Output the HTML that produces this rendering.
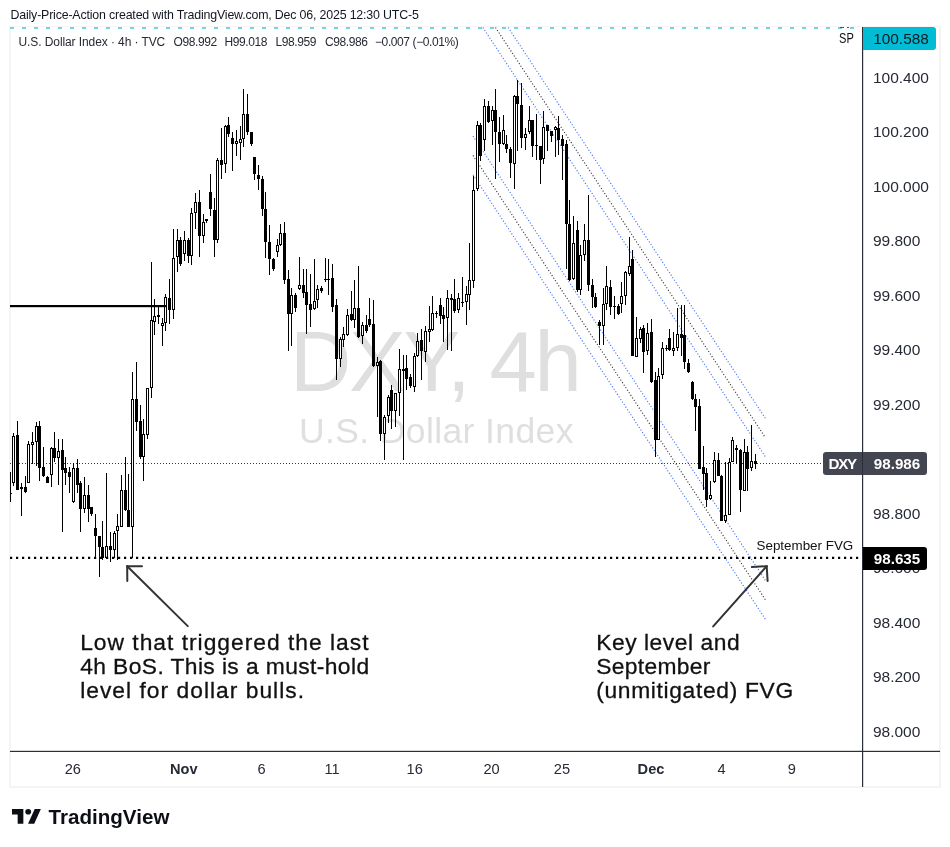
<!DOCTYPE html>
<html><head><meta charset="utf-8"><title>DXY 4h</title>
<style>
html,body{margin:0;padding:0;background:#fff;}
body{width:950px;height:847px;position:relative;overflow:hidden;font-family:"Liberation Sans",sans-serif;color:#131722;}
.abs{position:absolute;white-space:nowrap;}
#hdr{left:10.5px;top:7px;font-size:12.4px;line-height:16px;color:#131722;letter-spacing:-0.18px;}
#frame{left:9px;top:26px;width:932px;height:762px;border:2px solid #f4f4f5;border-top-width:1px;box-sizing:border-box;}
#legend{left:18.5px;top:34px;font-size:12px;line-height:16px;color:#262a35;}
.lg{position:absolute;top:0;white-space:nowrap;letter-spacing:-0.4px;}
#wm1{left:290px;top:315px;font-size:85px;line-height:94px;color:#dfdfdf;letter-spacing:-2.3px;}
#wm2{left:299px;top:410px;font-size:35.5px;line-height:42px;color:#dfdfdf;letter-spacing:0.38px;}
#chart{left:0;top:0;}
.ln{display:block;}
.ann{font-size:22.8px;line-height:23.7px;-webkit-text-stroke:0.3px #111;color:#111;white-space:nowrap;}
.pl{position:absolute;left:872.9px;width:67px;text-align:left;font-size:15.5px;line-height:18px;color:#262a35;white-space:nowrap;}
.tl{position:absolute;top:760px;font-size:14.6px;line-height:18px;color:#262a35;transform:translateX(-50%);white-space:nowrap;}
.tl b{font-weight:bold;}
.tag{position:absolute;box-sizing:border-box;color:#fff;font-weight:bold;font-size:15.2px;line-height:23px;white-space:nowrap;}
#root{position:absolute;left:0;top:0;width:950px;height:847px;will-change:transform;}
</style></head><body><div id="root">
<div class="abs" id="hdr">Daily-Price-Action created with TradingView.com, Dec 06, 2025 12:30 UTC-5</div>
<div class="abs" id="frame"></div>
<div class="abs" id="wm1">DXY, 4h</div>
<div class="abs" id="wm2">U.S. Dollar Index</div>
<svg class="abs" id="chart" width="950" height="847" viewBox="0 0 950 847">
<!-- top dashed SP line -->
<line x1="10" y1="28" x2="862" y2="28" stroke="#72d4e3" stroke-width="2" stroke-dasharray="4 8"/>
<!-- last price dotted -->
<line x1="10" y1="463.5" x2="822" y2="463.5" stroke="#3a3a3a" stroke-width="1" stroke-dasharray="1 2"/>
<g><line x1="508.2" y1="27.5" x2="765.4" y2="418.4" stroke="#2962ff" stroke-width="1.15" stroke-dasharray="1.1 1.95" opacity="0.9"/>
<line x1="495.5" y1="27.5" x2="765.4" y2="437.7" stroke="#222" stroke-width="1.15" stroke-dasharray="1.1 1.95" opacity="0.9"/>
<line x1="482.9" y1="27.5" x2="765.4" y2="456.8" stroke="#2962ff" stroke-width="1.15" stroke-dasharray="1.1 1.95" opacity="0.9"/>
<line x1="473.0" y1="136.0" x2="765.4" y2="580.4" stroke="#2962ff" stroke-width="1.15" stroke-dasharray="1.1 1.95" opacity="0.9"/>
<line x1="473.0" y1="155.4" x2="765.4" y2="599.8" stroke="#222" stroke-width="1.15" stroke-dasharray="1.1 1.95" opacity="0.9"/>
<line x1="473.0" y1="174.8" x2="765.4" y2="619.2" stroke="#2962ff" stroke-width="1.15" stroke-dasharray="1.1 1.95" opacity="0.9"/></g>
<g fill="#000" shape-rendering="crispEdges">
<rect x="10" y="472" width="1" height="30" fill="#000"/><rect x="10" y="493" width="2" height="1" fill="#000"/>
<rect x="13" y="433" width="1" height="53"/>
<rect x="12" y="436" width="3" height="47"/>
<rect x="13" y="437" width="1" height="45" fill="#fff"/>
<rect x="17" y="421" width="1" height="69"/>
<rect x="16" y="435" width="3" height="55"/>
<rect x="21" y="483" width="1" height="33"/>
<rect x="20" y="487" width="3" height="2"/>
<rect x="25" y="476" width="1" height="17"/>
<rect x="24" y="487" width="3" height="5"/>
<rect x="28" y="441" width="1" height="42"/>
<rect x="27" y="444" width="3" height="39"/>
<rect x="28" y="445" width="1" height="37" fill="#fff"/>
<rect x="32" y="432" width="1" height="32"/>
<rect x="31" y="442" width="3" height="3"/>
<rect x="32" y="443" width="1" height="1" fill="#fff"/>
<rect x="36" y="422" width="1" height="44"/>
<rect x="35" y="426" width="3" height="16"/>
<rect x="36" y="427" width="1" height="14" fill="#fff"/>
<rect x="39" y="421" width="1" height="60"/>
<rect x="38" y="426" width="3" height="42"/>
<rect x="43" y="447" width="1" height="30"/>
<rect x="42" y="467" width="3" height="9"/>
<rect x="47" y="476" width="1" height="7"/>
<rect x="46" y="477" width="3" height="6"/>
<rect x="51" y="447" width="1" height="40"/>
<rect x="50" y="448" width="3" height="27"/>
<rect x="51" y="449" width="1" height="25" fill="#fff"/>
<rect x="54" y="432" width="1" height="30"/>
<rect x="53" y="448" width="3" height="10"/>
<rect x="58" y="439" width="1" height="46"/>
<rect x="57" y="451" width="3" height="7"/>
<rect x="58" y="452" width="1" height="5" fill="#fff"/>
<rect x="62" y="439" width="1" height="93"/>
<rect x="61" y="450" width="3" height="20"/>
<rect x="65" y="457" width="1" height="28"/>
<rect x="64" y="468" width="3" height="5"/>
<rect x="69" y="467" width="1" height="26"/>
<rect x="68" y="472" width="3" height="5"/>
<rect x="73" y="463" width="1" height="40"/>
<rect x="72" y="468" width="3" height="34"/>
<rect x="73" y="469" width="1" height="32" fill="#fff"/>
<rect x="77" y="459" width="1" height="34"/>
<rect x="76" y="468" width="3" height="17"/>
<rect x="80" y="481" width="1" height="51"/>
<rect x="79" y="483" width="3" height="26"/>
<rect x="84" y="477" width="1" height="36"/>
<rect x="83" y="495" width="3" height="14"/>
<rect x="84" y="496" width="1" height="12" fill="#fff"/>
<rect x="88" y="485" width="1" height="37"/>
<rect x="87" y="495" width="3" height="14"/>
<rect x="91" y="507" width="1" height="9"/>
<rect x="90" y="507" width="3" height="7"/>
<rect x="95" y="514" width="1" height="44"/>
<rect x="94" y="528" width="3" height="8"/>
<rect x="99" y="536" width="1" height="41"/>
<rect x="98" y="536" width="3" height="11"/>
<rect x="102" y="521" width="1" height="39"/>
<rect x="101" y="547" width="3" height="11"/>
<rect x="106" y="473" width="1" height="86"/>
<rect x="105" y="546" width="3" height="12"/>
<rect x="106" y="547" width="1" height="10" fill="#fff"/>
<rect x="110" y="532" width="1" height="30"/>
<rect x="109" y="546" width="3" height="4"/>
<rect x="114" y="531" width="1" height="27"/>
<rect x="113" y="533" width="3" height="17"/>
<rect x="114" y="534" width="1" height="15" fill="#fff"/>
<rect x="117" y="514" width="1" height="46"/>
<rect x="116" y="526" width="3" height="5"/>
<rect x="117" y="527" width="1" height="3" fill="#fff"/>
<rect x="121" y="475" width="1" height="52"/>
<rect x="120" y="490" width="3" height="37"/>
<rect x="121" y="491" width="1" height="35" fill="#fff"/>
<rect x="125" y="457" width="1" height="54"/>
<rect x="124" y="490" width="3" height="20"/>
<rect x="128" y="474" width="1" height="53"/>
<rect x="127" y="510" width="3" height="17"/>
<rect x="132" y="372" width="1" height="186"/>
<rect x="131" y="399" width="3" height="128"/>
<rect x="132" y="400" width="1" height="126" fill="#fff"/>
<rect x="136" y="362" width="1" height="69"/>
<rect x="135" y="399" width="3" height="23"/>
<rect x="140" y="405" width="1" height="54"/>
<rect x="139" y="421" width="3" height="36"/>
<rect x="143" y="419" width="1" height="62"/>
<rect x="142" y="434" width="3" height="23"/>
<rect x="143" y="435" width="1" height="21" fill="#fff"/>
<rect x="147" y="388" width="1" height="51"/>
<rect x="146" y="388" width="3" height="47"/>
<rect x="147" y="389" width="1" height="45" fill="#fff"/>
<rect x="151" y="262" width="1" height="136"/>
<rect x="150" y="320" width="3" height="68"/>
<rect x="151" y="321" width="1" height="66" fill="#fff"/>
<rect x="154" y="299" width="1" height="36"/>
<rect x="153" y="316" width="3" height="6"/>
<rect x="154" y="317" width="1" height="4" fill="#fff"/>
<rect x="158" y="306" width="1" height="18"/>
<rect x="157" y="315" width="3" height="2"/>
<rect x="162" y="318" width="1" height="28"/>
<rect x="161" y="323" width="3" height="3"/>
<rect x="162" y="324" width="1" height="1" fill="#fff"/>
<rect x="165" y="294" width="1" height="37"/>
<rect x="164" y="297" width="3" height="26"/>
<rect x="165" y="298" width="1" height="24" fill="#fff"/>
<rect x="169" y="279" width="1" height="45"/>
<rect x="168" y="298" width="3" height="12"/>
<rect x="173" y="229" width="1" height="90"/>
<rect x="172" y="258" width="3" height="52"/>
<rect x="173" y="259" width="1" height="50" fill="#fff"/>
<rect x="177" y="229" width="1" height="43"/>
<rect x="176" y="240" width="3" height="17"/>
<rect x="177" y="241" width="1" height="15" fill="#fff"/>
<rect x="180" y="237" width="1" height="29"/>
<rect x="179" y="240" width="3" height="24"/>
<rect x="184" y="231" width="1" height="30"/>
<rect x="183" y="240" width="3" height="14"/>
<rect x="184" y="241" width="1" height="12" fill="#fff"/>
<rect x="188" y="238" width="1" height="25"/>
<rect x="187" y="240" width="3" height="16"/>
<rect x="191" y="208" width="1" height="57"/>
<rect x="190" y="213" width="3" height="43"/>
<rect x="191" y="214" width="1" height="41" fill="#fff"/>
<rect x="195" y="193" width="1" height="36"/>
<rect x="194" y="202" width="3" height="11"/>
<rect x="195" y="203" width="1" height="9" fill="#fff"/>
<rect x="199" y="190" width="1" height="67"/>
<rect x="198" y="202" width="3" height="34"/>
<rect x="203" y="214" width="1" height="29"/>
<rect x="202" y="222" width="3" height="14"/>
<rect x="203" y="223" width="1" height="12" fill="#fff"/>
<rect x="206" y="219" width="1" height="4"/>
<rect x="205" y="219" width="3" height="2"/>
<rect x="210" y="174" width="1" height="42"/>
<rect x="209" y="192" width="3" height="17"/>
<rect x="214" y="198" width="1" height="59"/>
<rect x="213" y="210" width="3" height="30"/>
<rect x="217" y="158" width="1" height="85"/>
<rect x="216" y="160" width="3" height="80"/>
<rect x="217" y="161" width="1" height="78" fill="#fff"/>
<rect x="221" y="128" width="1" height="51"/>
<rect x="220" y="160" width="3" height="5"/>
<rect x="225" y="125" width="1" height="48"/>
<rect x="224" y="126" width="3" height="38"/>
<rect x="225" y="127" width="1" height="36" fill="#fff"/>
<rect x="228" y="117" width="1" height="20"/>
<rect x="227" y="125" width="3" height="9"/>
<rect x="232" y="132" width="1" height="39"/>
<rect x="231" y="138" width="3" height="6"/>
<rect x="236" y="130" width="1" height="26"/>
<rect x="235" y="141" width="3" height="3"/>
<rect x="236" y="142" width="1" height="1" fill="#fff"/>
<rect x="240" y="126" width="1" height="34"/>
<rect x="239" y="139" width="3" height="4"/>
<rect x="240" y="140" width="1" height="2" fill="#fff"/>
<rect x="243" y="89" width="1" height="58"/>
<rect x="242" y="114" width="3" height="25"/>
<rect x="243" y="115" width="1" height="23" fill="#fff"/>
<rect x="247" y="94" width="1" height="41"/>
<rect x="246" y="114" width="3" height="18"/>
<rect x="251" y="132" width="1" height="14"/>
<rect x="250" y="132" width="3" height="12"/>
<rect x="254" y="157" width="1" height="23"/>
<rect x="253" y="157" width="3" height="17"/>
<rect x="258" y="165" width="1" height="25"/>
<rect x="257" y="175" width="3" height="4"/>
<rect x="262" y="176" width="1" height="40"/>
<rect x="261" y="179" width="3" height="30"/>
<rect x="265" y="192" width="1" height="66"/>
<rect x="264" y="209" width="3" height="33"/>
<rect x="269" y="225" width="1" height="50"/>
<rect x="268" y="242" width="3" height="17"/>
<rect x="273" y="258" width="1" height="13"/>
<rect x="272" y="259" width="3" height="10"/>
<rect x="277" y="239" width="1" height="18"/>
<rect x="276" y="245" width="3" height="7"/>
<rect x="277" y="246" width="1" height="5" fill="#fff"/>
<rect x="280" y="224" width="1" height="22"/>
<rect x="279" y="233" width="3" height="12"/>
<rect x="280" y="234" width="1" height="10" fill="#fff"/>
<rect x="284" y="222" width="1" height="62"/>
<rect x="283" y="233" width="3" height="47"/>
<rect x="288" y="270" width="1" height="81"/>
<rect x="287" y="279" width="3" height="35"/>
<rect x="291" y="288" width="1" height="58"/>
<rect x="290" y="295" width="3" height="19"/>
<rect x="291" y="296" width="1" height="17" fill="#fff"/>
<rect x="295" y="293" width="1" height="19"/>
<rect x="294" y="295" width="3" height="13"/>
<rect x="299" y="257" width="1" height="33"/>
<rect x="298" y="285" width="3" height="4"/>
<rect x="299" y="286" width="1" height="2" fill="#fff"/>
<rect x="303" y="269" width="1" height="29"/>
<rect x="302" y="285" width="3" height="8"/>
<rect x="306" y="269" width="1" height="65"/>
<rect x="305" y="292" width="3" height="13"/>
<rect x="310" y="274" width="1" height="53"/>
<rect x="309" y="304" width="3" height="6"/>
<rect x="314" y="259" width="1" height="51"/>
<rect x="313" y="301" width="3" height="8"/>
<rect x="314" y="302" width="1" height="6" fill="#fff"/>
<rect x="317" y="285" width="1" height="23"/>
<rect x="316" y="289" width="3" height="11"/>
<rect x="317" y="290" width="1" height="9" fill="#fff"/>
<rect x="321" y="286" width="1" height="7"/>
<rect x="320" y="288" width="3" height="3"/>
<rect x="325" y="258" width="1" height="24"/>
<rect x="324" y="279" width="3" height="1"/>
<rect x="328" y="259" width="1" height="36"/>
<rect x="327" y="279" width="3" height="1"/>
<rect x="332" y="264" width="1" height="48"/>
<rect x="331" y="278" width="3" height="29"/>
<rect x="336" y="299" width="1" height="81"/>
<rect x="335" y="305" width="3" height="54"/>
<rect x="340" y="337" width="1" height="30"/>
<rect x="339" y="339" width="3" height="20"/>
<rect x="340" y="340" width="1" height="18" fill="#fff"/>
<rect x="343" y="327" width="1" height="20"/>
<rect x="342" y="334" width="3" height="6"/>
<rect x="343" y="335" width="1" height="4" fill="#fff"/>
<rect x="347" y="309" width="1" height="27"/>
<rect x="346" y="315" width="3" height="20"/>
<rect x="347" y="316" width="1" height="18" fill="#fff"/>
<rect x="351" y="291" width="1" height="30"/>
<rect x="350" y="314" width="3" height="6"/>
<rect x="354" y="280" width="1" height="48"/>
<rect x="353" y="308" width="3" height="12"/>
<rect x="354" y="309" width="1" height="10" fill="#fff"/>
<rect x="358" y="266" width="1" height="72"/>
<rect x="357" y="308" width="3" height="29"/>
<rect x="362" y="322" width="1" height="22"/>
<rect x="361" y="325" width="3" height="11"/>
<rect x="362" y="326" width="1" height="9" fill="#fff"/>
<rect x="366" y="315" width="1" height="18"/>
<rect x="365" y="325" width="3" height="6"/>
<rect x="369" y="298" width="1" height="29"/>
<rect x="368" y="319" width="3" height="6"/>
<rect x="373" y="300" width="1" height="67"/>
<rect x="372" y="324" width="3" height="42"/>
<rect x="377" y="357" width="1" height="60"/>
<rect x="376" y="362" width="3" height="4"/>
<rect x="377" y="363" width="1" height="2" fill="#fff"/>
<rect x="380" y="360" width="1" height="81"/>
<rect x="379" y="361" width="3" height="73"/>
<rect x="384" y="415" width="1" height="45"/>
<rect x="383" y="417" width="3" height="17"/>
<rect x="384" y="418" width="1" height="15" fill="#fff"/>
<rect x="388" y="395" width="1" height="28"/>
<rect x="387" y="397" width="3" height="19"/>
<rect x="388" y="398" width="1" height="17" fill="#fff"/>
<rect x="391" y="385" width="1" height="44"/>
<rect x="390" y="390" width="3" height="21"/>
<rect x="395" y="393" width="1" height="34"/>
<rect x="394" y="393" width="3" height="18"/>
<rect x="395" y="394" width="1" height="16" fill="#fff"/>
<rect x="399" y="349" width="1" height="67"/>
<rect x="398" y="369" width="3" height="24"/>
<rect x="399" y="370" width="1" height="22" fill="#fff"/>
<rect x="403" y="355" width="1" height="105"/>
<rect x="402" y="369" width="3" height="2"/>
<rect x="406" y="355" width="1" height="35"/>
<rect x="405" y="368" width="3" height="11"/>
<rect x="410" y="374" width="1" height="14"/>
<rect x="409" y="377" width="3" height="9"/>
<rect x="414" y="353" width="1" height="39"/>
<rect x="413" y="356" width="3" height="31"/>
<rect x="414" y="357" width="1" height="29" fill="#fff"/>
<rect x="417" y="333" width="1" height="24"/>
<rect x="416" y="341" width="3" height="15"/>
<rect x="417" y="342" width="1" height="13" fill="#fff"/>
<rect x="421" y="329" width="1" height="51"/>
<rect x="420" y="340" width="3" height="11"/>
<rect x="425" y="326" width="1" height="36"/>
<rect x="424" y="331" width="3" height="21"/>
<rect x="425" y="332" width="1" height="19" fill="#fff"/>
<rect x="429" y="306" width="1" height="36"/>
<rect x="428" y="329" width="3" height="3"/>
<rect x="429" y="330" width="1" height="1" fill="#fff"/>
<rect x="432" y="296" width="1" height="35"/>
<rect x="431" y="313" width="3" height="17"/>
<rect x="432" y="314" width="1" height="15" fill="#fff"/>
<rect x="436" y="311" width="1" height="7"/>
<rect x="435" y="313" width="3" height="1"/>
<rect x="440" y="298" width="1" height="26"/>
<rect x="439" y="305" width="3" height="11"/>
<rect x="443" y="307" width="1" height="35"/>
<rect x="442" y="315" width="3" height="4"/>
<rect x="447" y="290" width="1" height="60"/>
<rect x="446" y="298" width="3" height="20"/>
<rect x="447" y="299" width="1" height="18" fill="#fff"/>
<rect x="451" y="294" width="1" height="57"/>
<rect x="450" y="298" width="3" height="2"/>
<rect x="454" y="279" width="1" height="34"/>
<rect x="453" y="299" width="3" height="12"/>
<rect x="458" y="293" width="1" height="20"/>
<rect x="457" y="298" width="3" height="12"/>
<rect x="458" y="299" width="1" height="10" fill="#fff"/>
<rect x="462" y="277" width="1" height="30"/>
<rect x="461" y="302" width="3" height="1"/>
<rect x="466" y="286" width="1" height="39"/>
<rect x="465" y="294" width="3" height="8"/>
<rect x="466" y="295" width="1" height="6" fill="#fff"/>
<rect x="469" y="243" width="1" height="67"/>
<rect x="468" y="280" width="3" height="15"/>
<rect x="469" y="281" width="1" height="13" fill="#fff"/>
<rect x="473" y="176" width="1" height="112"/>
<rect x="472" y="190" width="3" height="91"/>
<rect x="473" y="191" width="1" height="89" fill="#fff"/>
<rect x="477" y="121" width="1" height="70"/>
<rect x="476" y="125" width="3" height="64"/>
<rect x="477" y="126" width="1" height="62" fill="#fff"/>
<rect x="480" y="123" width="1" height="38"/>
<rect x="479" y="125" width="3" height="31"/>
<rect x="484" y="99" width="1" height="52"/>
<rect x="483" y="106" width="3" height="34"/>
<rect x="484" y="107" width="1" height="32" fill="#fff"/>
<rect x="488" y="101" width="1" height="22"/>
<rect x="487" y="106" width="3" height="16"/>
<rect x="492" y="106" width="1" height="39"/>
<rect x="491" y="110" width="3" height="11"/>
<rect x="492" y="111" width="1" height="9" fill="#fff"/>
<rect x="495" y="89" width="1" height="90"/>
<rect x="494" y="110" width="3" height="22"/>
<rect x="499" y="117" width="1" height="45"/>
<rect x="498" y="132" width="3" height="12"/>
<rect x="503" y="115" width="1" height="30"/>
<rect x="502" y="130" width="3" height="14"/>
<rect x="503" y="131" width="1" height="12" fill="#fff"/>
<rect x="506" y="135" width="1" height="18"/>
<rect x="505" y="144" width="3" height="5"/>
<rect x="510" y="147" width="1" height="31"/>
<rect x="509" y="149" width="3" height="14"/>
<rect x="514" y="95" width="1" height="94"/>
<rect x="513" y="96" width="3" height="68"/>
<rect x="514" y="97" width="1" height="66" fill="#fff"/>
<rect x="517" y="80" width="1" height="71"/>
<rect x="516" y="96" width="3" height="8"/>
<rect x="521" y="83" width="1" height="65"/>
<rect x="520" y="105" width="3" height="33"/>
<rect x="525" y="128" width="1" height="22"/>
<rect x="524" y="134" width="3" height="4"/>
<rect x="525" y="135" width="1" height="2" fill="#fff"/>
<rect x="529" y="106" width="1" height="28"/>
<rect x="528" y="120" width="3" height="12"/>
<rect x="529" y="121" width="1" height="10" fill="#fff"/>
<rect x="532" y="120" width="1" height="37"/>
<rect x="531" y="120" width="3" height="26"/>
<rect x="536" y="114" width="1" height="46"/>
<rect x="535" y="145" width="3" height="1"/>
<rect x="540" y="146" width="1" height="38"/>
<rect x="539" y="146" width="3" height="14"/>
<rect x="543" y="111" width="1" height="53"/>
<rect x="542" y="127" width="3" height="32"/>
<rect x="543" y="128" width="1" height="30" fill="#fff"/>
<rect x="547" y="125" width="1" height="26"/>
<rect x="546" y="125" width="3" height="6"/>
<rect x="551" y="131" width="1" height="11"/>
<rect x="550" y="131" width="3" height="5"/>
<rect x="555" y="126" width="1" height="31"/>
<rect x="554" y="127" width="3" height="3"/>
<rect x="555" y="128" width="1" height="1" fill="#fff"/>
<rect x="558" y="116" width="1" height="39"/>
<rect x="557" y="128" width="3" height="12"/>
<rect x="562" y="135" width="1" height="45"/>
<rect x="561" y="139" width="3" height="7"/>
<rect x="566" y="140" width="1" height="129"/>
<rect x="565" y="144" width="3" height="80"/>
<rect x="569" y="200" width="1" height="81"/>
<rect x="568" y="224" width="3" height="56"/>
<rect x="573" y="216" width="1" height="64"/>
<rect x="572" y="243" width="3" height="36"/>
<rect x="573" y="244" width="1" height="34" fill="#fff"/>
<rect x="577" y="221" width="1" height="71"/>
<rect x="576" y="230" width="3" height="60"/>
<rect x="580" y="245" width="1" height="50"/>
<rect x="579" y="255" width="3" height="35"/>
<rect x="580" y="256" width="1" height="33" fill="#fff"/>
<rect x="584" y="224" width="1" height="37"/>
<rect x="583" y="240" width="3" height="15"/>
<rect x="584" y="241" width="1" height="13" fill="#fff"/>
<rect x="588" y="195" width="1" height="96"/>
<rect x="587" y="240" width="3" height="45"/>
<rect x="592" y="279" width="1" height="29"/>
<rect x="591" y="285" width="3" height="12"/>
<rect x="595" y="293" width="1" height="15"/>
<rect x="594" y="297" width="3" height="10"/>
<rect x="599" y="320" width="1" height="25"/>
<rect x="598" y="322" width="3" height="4"/>
<rect x="603" y="288" width="1" height="57"/>
<rect x="602" y="304" width="3" height="22"/>
<rect x="603" y="305" width="1" height="20" fill="#fff"/>
<rect x="606" y="266" width="1" height="44"/>
<rect x="605" y="286" width="3" height="18"/>
<rect x="606" y="287" width="1" height="16" fill="#fff"/>
<rect x="610" y="280" width="1" height="35"/>
<rect x="609" y="287" width="3" height="20"/>
<rect x="614" y="296" width="1" height="23"/>
<rect x="613" y="306" width="3" height="1"/>
<rect x="618" y="304" width="1" height="11"/>
<rect x="617" y="306" width="3" height="8"/>
<rect x="621" y="282" width="1" height="31"/>
<rect x="620" y="296" width="3" height="8"/>
<rect x="621" y="297" width="1" height="6" fill="#fff"/>
<rect x="625" y="271" width="1" height="34"/>
<rect x="624" y="272" width="3" height="24"/>
<rect x="625" y="273" width="1" height="22" fill="#fff"/>
<rect x="629" y="237" width="1" height="39"/>
<rect x="628" y="266" width="3" height="8"/>
<rect x="629" y="267" width="1" height="6" fill="#fff"/>
<rect x="632" y="250" width="1" height="106"/>
<rect x="631" y="259" width="3" height="97"/>
<rect x="636" y="317" width="1" height="40"/>
<rect x="635" y="338" width="3" height="19"/>
<rect x="636" y="339" width="1" height="17" fill="#fff"/>
<rect x="640" y="327" width="1" height="16"/>
<rect x="639" y="329" width="3" height="10"/>
<rect x="640" y="330" width="1" height="8" fill="#fff"/>
<rect x="643" y="325" width="1" height="48"/>
<rect x="642" y="328" width="3" height="24"/>
<rect x="647" y="323" width="1" height="32"/>
<rect x="646" y="333" width="3" height="18"/>
<rect x="647" y="334" width="1" height="16" fill="#fff"/>
<rect x="651" y="319" width="1" height="64"/>
<rect x="650" y="332" width="3" height="50"/>
<rect x="655" y="372" width="1" height="85"/>
<rect x="654" y="380" width="3" height="60"/>
<rect x="658" y="368" width="1" height="72"/>
<rect x="657" y="376" width="3" height="64"/>
<rect x="658" y="377" width="1" height="62" fill="#fff"/>
<rect x="662" y="342" width="1" height="37"/>
<rect x="661" y="348" width="3" height="27"/>
<rect x="662" y="349" width="1" height="25" fill="#fff"/>
<rect x="666" y="345" width="1" height="6"/>
<rect x="665" y="348" width="3" height="1"/>
<rect x="669" y="329" width="1" height="22"/>
<rect x="668" y="338" width="3" height="12"/>
<rect x="673" y="332" width="1" height="24"/>
<rect x="672" y="348" width="3" height="3"/>
<rect x="673" y="349" width="1" height="1" fill="#fff"/>
<rect x="677" y="308" width="1" height="43"/>
<rect x="676" y="334" width="3" height="14"/>
<rect x="677" y="335" width="1" height="12" fill="#fff"/>
<rect x="681" y="305" width="1" height="51"/>
<rect x="680" y="334" width="3" height="4"/>
<rect x="684" y="305" width="1" height="64"/>
<rect x="683" y="335" width="3" height="27"/>
<rect x="688" y="359" width="1" height="14"/>
<rect x="687" y="363" width="3" height="9"/>
<rect x="692" y="381" width="1" height="19"/>
<rect x="691" y="382" width="3" height="17"/>
<rect x="695" y="394" width="1" height="37"/>
<rect x="694" y="399" width="3" height="8"/>
<rect x="699" y="399" width="1" height="70"/>
<rect x="698" y="406" width="3" height="63"/>
<rect x="703" y="446" width="1" height="44"/>
<rect x="702" y="467" width="3" height="7"/>
<rect x="706" y="468" width="1" height="39"/>
<rect x="705" y="473" width="3" height="27"/>
<rect x="710" y="481" width="1" height="19"/>
<rect x="709" y="495" width="3" height="4"/>
<rect x="710" y="496" width="1" height="2" fill="#fff"/>
<rect x="714" y="452" width="1" height="31"/>
<rect x="713" y="460" width="3" height="22"/>
<rect x="714" y="461" width="1" height="20" fill="#fff"/>
<rect x="718" y="453" width="1" height="23"/>
<rect x="717" y="460" width="3" height="16"/>
<rect x="721" y="475" width="1" height="46"/>
<rect x="720" y="476" width="3" height="45"/>
<rect x="725" y="462" width="1" height="61"/>
<rect x="724" y="515" width="3" height="6"/>
<rect x="725" y="516" width="1" height="4" fill="#fff"/>
<rect x="729" y="458" width="1" height="57"/>
<rect x="728" y="462" width="3" height="53"/>
<rect x="729" y="463" width="1" height="51" fill="#fff"/>
<rect x="732" y="437" width="1" height="25"/>
<rect x="731" y="440" width="3" height="22"/>
<rect x="732" y="441" width="1" height="20" fill="#fff"/>
<rect x="736" y="445" width="1" height="19"/>
<rect x="735" y="448" width="3" height="2"/>
<rect x="740" y="449" width="1" height="63"/>
<rect x="739" y="450" width="3" height="40"/>
<rect x="744" y="439" width="1" height="52"/>
<rect x="743" y="452" width="3" height="39"/>
<rect x="744" y="453" width="1" height="37" fill="#fff"/>
<rect x="747" y="446" width="1" height="45"/>
<rect x="746" y="452" width="3" height="17"/>
<rect x="751" y="425" width="1" height="46"/>
<rect x="750" y="461" width="3" height="7"/>
<rect x="751" y="462" width="1" height="5" fill="#fff"/>
<rect x="755" y="454" width="1" height="15"/>
<rect x="754" y="461" width="3" height="3"/>
</g>
<!-- BoS line -->
<rect x="10" y="305" width="156" height="2.2" fill="#000"/>
<!-- FVG dotted -->
<line x1="10" y1="557.8" x2="859" y2="557.8" stroke="#000" stroke-width="2.2" stroke-dasharray="2.2 3.8"/>
<g stroke="#333" stroke-width="2" stroke-linecap="round" fill="none"><line x1="187.8" y1="626.1" x2="127.2" y2="566.3"/><line x1="127.2" y1="566.3" x2="127.3" y2="581.1"/><line x1="127.2" y1="566.3" x2="142.0" y2="566.2"/><line x1="713.2" y1="626.4" x2="766.7" y2="566.2"/><line x1="766.7" y1="566.2" x2="751.9" y2="567.1"/><line x1="766.7" y1="566.2" x2="767.6" y2="581.0"/></g>
<!-- axes -->
<rect x="862" y="27" width="1.2" height="760" fill="#2a2e39"/>
<rect x="10" y="750.8" width="930" height="1.2" fill="#2a2e39"/>
</svg>
<div class="abs" id="legend"><span class="lg" style="left:0px;letter-spacing:-0.09px">U.S. Dollar Index · 4h · TVC</span><span class="lg" style="left:155px">O98.992</span><span class="lg" style="left:206px">H99.018</span><span class="lg" style="left:257px">L98.959</span><span class="lg" style="left:306.5px">C98.986</span><span class="lg" style="left:356.5px">−0.007 (−0.01%)</span></div>
<div class="abs ann" style="left:80.2px;top:631.2px;"><span class="ln" id="a1" style="letter-spacing:0.999px">Low that triggered the last</span><span class="ln" id="a2" style="letter-spacing:0.406px">4h BoS. This is a must-hold</span><span class="ln" id="a3" style="letter-spacing:1.015px">level for dollar bulls.</span></div>
<div class="abs ann" style="left:596.2px;top:631.2px;"><span class="ln" id="b1" style="letter-spacing:0.549px">Key level and</span><span class="ln" id="b2" style="letter-spacing:0.333px">September</span><span class="ln" id="b3" style="letter-spacing:0.668px">(unmitigated) FVG</span></div>
<div class="abs" style="left:756.5px;top:537.5px;font-size:13.4px;line-height:16px;color:#111;">September FVG</div>
<div class="abs" style="left:839.2px;top:28.9px;font-size:14.2px;line-height:18px;color:#111;transform:scaleX(0.78);transform-origin:0 0;">SP</div>
<div class="abs" style="left:840px;top:26.6px;width:4px;height:1px;background:#555;"></div><div class="abs" style="left:847.2px;top:26.6px;width:1.8px;height:1px;background:#555;"></div>
<!-- price labels -->
<div class="pl" style="top:69px">100.400</div>
<div class="pl" style="top:123px">100.200</div>
<div class="pl" style="top:178px">100.000</div>
<div class="pl" style="top:232px">99.800</div>
<div class="pl" style="top:287px">99.600</div>
<div class="pl" style="top:341px">99.400</div>
<div class="pl" style="top:396px">99.200</div>
<div class="pl" style="top:505px">98.800</div>
<div class="pl" style="top:559px">98.600</div>
<div class="pl" style="top:614px">98.400</div>
<div class="pl" style="top:668px">98.200</div>
<div class="pl" style="top:723px">98.000</div>
<div class="tag" style="left:863px;top:27px;width:73px;height:23px;background:#00bcd4;color:#131722;font-weight:normal;border-radius:0 3px 3px 0;text-align:center;font-size:15.4px;padding-left:3px;">100.588</div>
<div class="tag" style="left:823px;top:452px;width:104px;height:23px;background:#434651;border-radius:3px;"><span style="position:absolute;left:5.5px;letter-spacing:-1.3px;">DXY</span><span style="position:absolute;left:42px;width:64px;text-align:center;">98.986</span></div>
<div class="abs" style="left:862px;top:452px;width:1px;height:23px;background:#2a2e39;"></div>
<div class="tag" style="left:863px;top:547px;width:64px;height:23px;background:#000;border-radius:0 3px 3px 0;text-align:center;padding-left:4px;">98.635</div>
<!-- time labels -->
<div class="tl" style="left:72.8px">26</div>
<div class="tl" style="left:183.8px"><b>Nov</b></div>
<div class="tl" style="left:261.5px">6</div>
<div class="tl" style="left:332px">11</div>
<div class="tl" style="left:414.7px">16</div>
<div class="tl" style="left:491.6px">20</div>
<div class="tl" style="left:561.9px">25</div>
<div class="tl" style="left:651px"><b>Dec</b></div>
<div class="tl" style="left:721.5px">4</div>
<div class="tl" style="left:791.8px">9</div>
<!-- logo -->
<svg class="abs" style="left:12px;top:809px" width="29.2" height="14.8" viewBox="0 0 36 19" preserveAspectRatio="none"><path fill="#0c0e15" d="M14 19H7V7H0V0h14v19zM35.6 0L27.4 19h-7.6l8.2-19h7.6z"/><circle cx="20" cy="3.6" r="3.6" fill="#0c0e15"/></svg>
<div class="abs" style="left:48.5px;top:804px;font-size:20.6px;line-height:26px;font-weight:bold;color:#0c0e15;letter-spacing:0px;">TradingView</div>
</div></body></html>
